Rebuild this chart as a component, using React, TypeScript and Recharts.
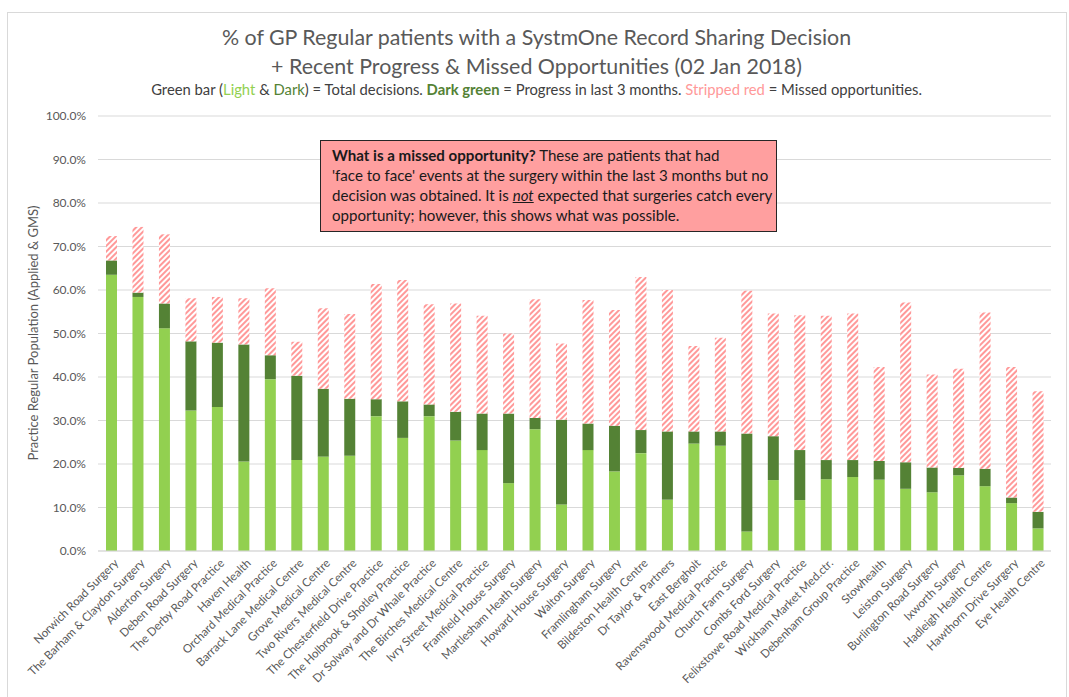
import React from "react";
import { BarChart, Bar, XAxis, YAxis, CartesianGrid } from "recharts";

const practices = [
  "Norwich Road Surgery", "The Barham & Claydon Surgery", "Alderton Surgery", "Deben Road Surgery",
  "The Derby Road Practice", "Haven Health", "Orchard Medical Practice", "Barrack Lane Medical Centre",
  "Grove Medical Centre", "Two Rivers Medical Centre", "The Chesterfield Drive Practice",
  "The Holbrook & Shotley Practice", "Dr Solway and Dr Whale Practice", "The Birches Medical Centre",
  "Ivry Street Medical Practice", "Framfield House Surgery", "Martlesham Heath Surgery",
  "Howard House Surgery", "Walton Surgery", "Framlingham Surgery", "Bildeston Health Centre",
  "Dr Taylor & Partners", "East Bergholt", "Ravenswood Medical Practice", "Church Farm Surgery",
  "Combs Ford Surgery", "Felixstowe Road Medical Practice", "Wickham Market Med.ctr.",
  "Debenham Group Practice", "Stowhealth", "Leiston Surgery", "Burlington Road Surgery",
  "Ixworth Surgery", "Hadleigh Health Centre", "Hawthorn Drive Surgery", "Eye Health Centre",
];

// light green = decisions before the last 3 months
const earlier = [
  63.5, 58.4, 51.2, 32.3, 33.1, 20.6, 39.5, 20.9, 21.7, 21.9, 31.0, 26.0,
  31.0, 25.4, 23.2, 15.6, 28.0, 10.7, 23.2, 18.3, 22.5, 11.8, 24.7, 24.2,
  4.5, 16.3, 11.7, 16.5, 17.0, 16.4, 14.3, 13.5, 17.4, 14.9, 11.0, 5.2,
];
// dark green = progress in last 3 months
const progress = [
  3.3, 1.0, 5.7, 15.9, 14.8, 26.9, 5.5, 19.4, 15.6, 13.1, 3.9, 8.4,
  2.7, 6.6, 8.4, 16.0, 2.6, 19.5, 6.1, 10.5, 5.3, 15.7, 2.8, 3.3,
  22.5, 10.1, 11.5, 4.4, 3.9, 4.3, 6.1, 5.7, 1.7, 4.0, 1.3, 3.8,
];
// striped red = missed opportunities
const missed = [
  5.6, 15.1, 15.9, 9.9, 10.5, 10.6, 15.4, 7.8, 18.5, 19.5, 26.5, 27.9,
  23.0, 24.9, 22.5, 18.4, 27.3, 17.5, 28.4, 26.6, 35.2, 32.5, 19.6, 21.5,
  32.8, 28.2, 31.0, 33.2, 33.7, 21.6, 36.7, 21.4, 22.8, 35.9, 30.0, 27.7,
];
const yTicks = [0, 10, 20, 30, 40, 50, 60, 70, 80, 90, 100];

const data = practices.map((name, i) => ({
  name,
  earlier: earlier[i],
  progress: progress[i],
  missed: missed[i],
}));

const FONT = "Lato, 'Liberation Sans', sans-serif";

const XTick = ({ x, y, payload }: any) => (
  <g transform={`translate(${x + 5},${y + 2})`}>
    <text x={0} y={0} dy="0.35em" textAnchor="end" transform="rotate(-45)" fontSize={11.6} fill="#595959" fontFamily={FONT}>
      {payload.value}
    </text>
  </g>
);

export default function App() {
  return (
    <div style={{ position: "absolute", left: 0, top: 0, width: 1069, height: 697, background: "#fff", fontFamily: FONT }}>
      <div style={{ position: "absolute", left: 7, top: 12, width: 1058, height: 690, border: "1px solid #d9d9d9" }} />
      <div style={{ position: "absolute", left: 0, width: 1073, top: 23, textAlign: "center", fontSize: 21.4, color: "#595959", lineHeight: "29px" }}>
        % of GP Regular patients with a SystmOne Record Sharing Decision
        <br />+ Recent Progress &amp; Missed Opportunities (02 Jan 2018)
      </div>
      <div style={{ position: "absolute", left: 0, width: 1073, top: 79, textAlign: "center", fontSize: 14.8, color: "#404040", lineHeight: "20px" }}>
        Green bar (<span style={{ color: "#92d050" }}>Light</span> &amp; <span style={{ color: "#548235" }}>Dark</span>) = Total decisions.{" "}
        <b style={{ color: "#548235" }}>Dark green</b> = Progress in last 3 months.{" "}
        <span style={{ color: "#ff9999" }}>Stripped red</span> = Missed opportunities.
      </div>
      <div
        style={{
          position: "absolute", left: 33, top: 333, transform: "translate(-50%, -50%) rotate(-90deg)",
          whiteSpace: "nowrap", fontSize: 13, color: "#595959",
        }}
      >
        Practice Regular Population (Applied &amp; GMS)
      </div>
      <BarChart
        width={1069}
        height={697}
        data={data}
        margin={{ top: 116, right: 18, left: 0, bottom: 0 }}
        barSize={11}
        style={{ position: "absolute", left: 0, top: 0 }}
      >
        <defs>
          <pattern id="stripes" patternUnits="userSpaceOnUse" width={4} height={4} patternTransform="rotate(45)">
            <rect x={0} y={0} width={4} height={4} fill="#fff" />
            <rect x={0} y={0} width={2} height={4} fill="#ff9999" />
          </pattern>
        </defs>
        <CartesianGrid vertical={false} stroke="#d9d9d9" />
        <XAxis
          dataKey="name"
          interval={0}
          tickLine={false}
          axisLine={{ stroke: "#d9d9d9" }}
          height={146}
          tick={<XTick />}
        />
        <YAxis
          width={98}
          domain={[0, 100]}
          ticks={yTicks}
          tickLine={false}
          axisLine={false}
          tickFormatter={(v: number) => `${v.toFixed(1)}%`}
          tick={{ fill: "#595959", fontSize: 12, fontFamily: FONT, dx: -4 }}
        />
        <Bar dataKey="earlier" stackId="a" fill="#92d050" isAnimationActive={false} />
        <Bar dataKey="progress" stackId="a" fill="#548235" isAnimationActive={false} />
        <Bar dataKey="missed" stackId="a" fill="url(#stripes)" isAnimationActive={false} />
      </BarChart>
      <div
        style={{
          position: "absolute", left: 320, top: 140, width: 457, height: 92, boxSizing: "border-box",
          background: "#ff9f9f", border: "1.5px solid #262626", padding: "4px 0 0 11px",
          fontSize: 15.1, lineHeight: "20px", color: "#1a1a1a", whiteSpace: "nowrap",
        }}
      >
        <b>What is a missed opportunity?</b> These are patients that had
        <br />'face to face' events at the surgery within the last 3 months but no
        <br />decision was obtained. It is <i style={{ textDecoration: "underline" }}>not</i> expected that surgeries catch every
        <br />opportunity; however, this shows what was possible.
      </div>
    </div>
  );
}
